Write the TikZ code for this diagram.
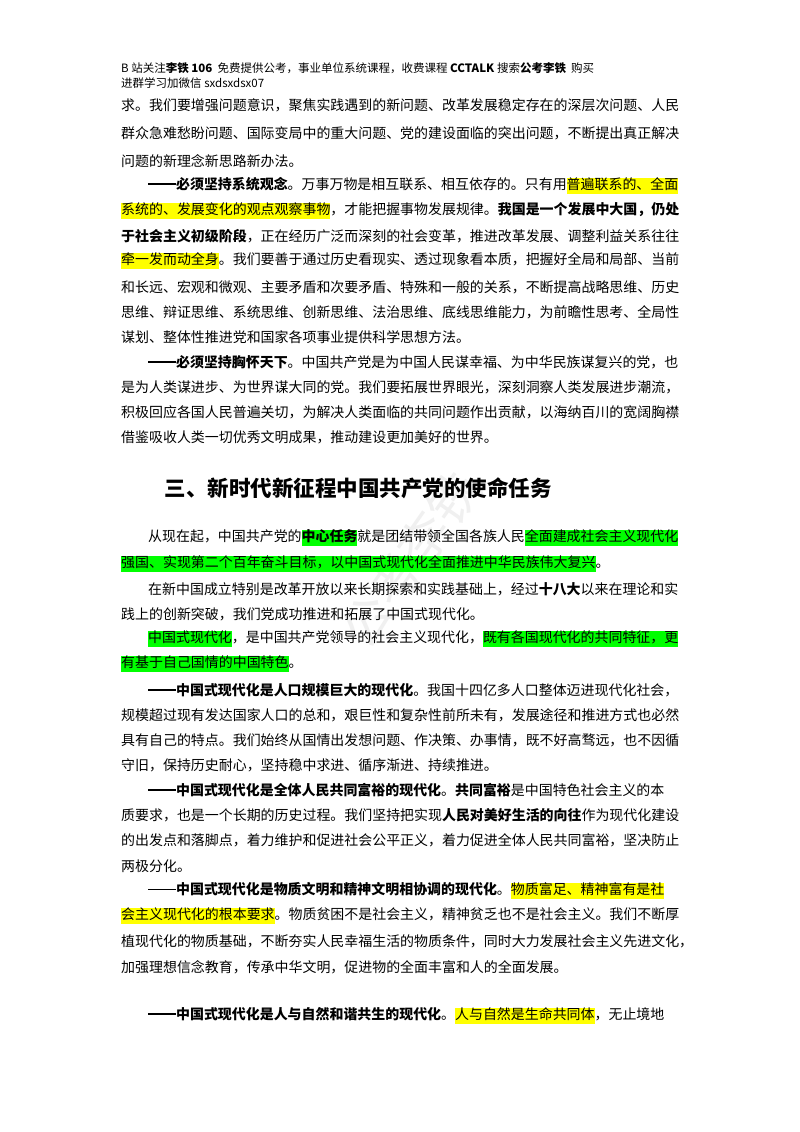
\documentclass[tikz,border=0pt]{standalone}
\usepackage{fontspec}
\usepackage{xcolor}
\setmainfont{Noto Sans CJK SC}
\newfontfamily\hdfont{Noto Sans CJK SC}
\definecolor{hly}{HTML}{FFFF00}
\definecolor{hlg}{HTML}{00FF00}
\newcommand{\hy}[1]{{\setlength\fboxsep{0pt}\colorbox{hly}{\strut #1}}}
\newcommand{\hg}[1]{{\setlength\fboxsep{0pt}\colorbox{hlg}{\strut #1}}}
\newcommand{\dd}{\rule[0.33em]{2em}{0.08em}}
\newcommand{\ddb}{\rule[0.33em]{2em}{0.12em}}
\tikzset{
  ln/.style={anchor=west,inner sep=0pt,font=\fontsize{13.95pt}{16pt}\selectfont},
  hd/.style={anchor=west,inner sep=0pt,font=\hdfont\fontsize{11.5pt}{12pt}\selectfont},
  ttl/.style={anchor=center,inner sep=0pt,font=\hdfont\bfseries\fontsize{21.5pt}{24pt}\selectfont}
}
\begin{document}
\begin{tikzpicture}[x=1pt,y=-1pt]
\useasboundingbox[fill=white] (0,0) rectangle (800,1132);
\node[font=\hdfont\fontsize{50pt}{50pt}\selectfont,text=black!6,rotate=55] (wm) at (410,560) {公考李铁};
\node[hd] (h1) at (121,68) {B 站关注\textbf{李铁 106} \ 免费提供公考，事业单位系统课程，收费课程 \textbf{CCTALK} 搜索\textbf{公考李铁} \ 购买};
\node[hd] (h2) at (121,83) {进群学习加微信 sxdsxdsx07};
\node[ln] (a1) at (121,105) {求。我们要增强问题意识，聚焦实践遇到的新问题、改革发展稳定存在的深层次问题、人民};
\node[ln] (a2) at (121,133) {群众急难愁盼问题、国际变局中的重大问题、党的建设面临的突出问题，不断提出真正解决};
\node[ln] (a3) at (121,161) {问题的新理念新思路新办法。};
\node[ln] (b1) at (148,186) {\ddb\textbf{必须坚持系统观念}。万事万物是相互联系、相互依存的。只有用\hy{普遍联系的、全面}};
\node[ln] (b2) at (121,211) {\hy{系统的、发展变化的观点观察事物}，才能把握事物发展规律。\textbf{我国是一个发展中大国，仍处}};
\node[ln] (b3) at (121,236) {\textbf{于社会主义初级阶段}，正在经历广泛而深刻的社会变革，推进改革发展、调整利益关系往往};
\node[ln] (b4) at (121,261) {\hy{牵一发而动全身}。我们要善于通过历史看现实、透过现象看本质，把握好全局和局部、当前};
\node[ln] (b5) at (121,287) {和长远、宏观和微观、主要矛盾和次要矛盾、特殊和一般的关系，不断提高战略思维、历史};
\node[ln] (b6) at (121,312) {思维、辩证思维、系统思维、创新思维、法治思维、底线思维能力，为前瞻性思考、全局性};
\node[ln] (b7) at (121,337) {谋划、整体性推进党和国家各项事业提供科学思想方法。};
\node[ln] (c1) at (148,362) {\ddb\textbf{必须坚持胸怀天下}。中国共产党是为中国人民谋幸福、为中华民族谋复兴的党，也};
\node[ln] (c2) at (121,387) {是为人类谋进步、为世界谋大同的党。我们要拓展世界眼光，深刻洞察人类发展进步潮流，};
\node[ln] (c3) at (121,412) {积极回应各国人民普遍关切，为解决人类面临的共同问题作出贡献，以海纳百川的宽阔胸襟};
\node[ln] (c4) at (121,437) {借鉴吸收人类一切优秀文明成果，推动建设更加美好的世界。};
\node[ttl] (t) at (358,488) {三、新时代新征程中国共产党的使命任务};
\node[ln] (d1) at (148,538) {从现在起，中国共产党的\hg{\textbf{中心任务}}就是团结带领全国各族人民\hg{全面建成社会主义现代化}};
\node[ln] (d2) at (121,564) {\hg{强国、实现第二个百年奋斗目标，以中国式现代化全面推进中华民族伟大复兴}。};
\node[ln] (e1) at (148,589) {在新中国成立特别是改革开放以来长期探索和实践基础上，经过\textbf{十八大}以来在理论和实};
\node[ln] (e2) at (121,614) {践上的创新突破，我们党成功推进和拓展了中国式现代化。};
\node[ln] (f1) at (148,639) {\hg{中国式现代化}，是中国共产党领导的社会主义现代化，\hg{既有各国现代化的共同特征，更}};
\node[ln] (f2) at (121,664) {\hg{有基于自己国情的中国特色}。};
\node[ln] (g1) at (148,690) {\ddb\textbf{中国式现代化是人口规模巨大的现代化}。我国十四亿多人口整体迈进现代化社会，};
\node[ln] (g2) at (121,715) {规模超过现有发达国家人口的总和，艰巨性和复杂性前所未有，发展途径和推进方式也必然};
\node[ln] (g3) at (121,740) {具有自己的特点。我们始终从国情出发想问题、作决策、办事情，既不好高骛远，也不因循};
\node[ln] (g4) at (121,765) {守旧，保持历史耐心，坚持稳中求进、循序渐进、持续推进。};
\node[ln] (h1b) at (148,790) {\ddb\textbf{中国式现代化是全体人民共同富裕的现代化}。\textbf{共同富裕}是中国特色社会主义的本};
\node[ln] (h2b) at (121,815) {质要求，也是一个长期的历史过程。我们坚持把实现\textbf{人民对美好生活的向往}作为现代化建设};
\node[ln] (h3b) at (121,840) {的出发点和落脚点，着力维护和促进社会公平正义，着力促进全体人民共同富裕，坚决防止};
\node[ln] (h4b) at (121,866) {两极分化。};
\node[ln] (i1) at (148,891) {\dd\textbf{中国式现代化是物质文明和精神文明相协调的现代化}。\hy{物质富足、精神富有是社}};
\node[ln] (i2) at (121,916) {\hy{会主义现代化的根本要求}。物质贫困不是社会主义，精神贫乏也不是社会主义。我们不断厚};
\node[ln] (i3) at (121,941) {植现代化的物质基础，不断夯实人民幸福生活的物质条件，同时大力发展社会主义先进文化，};
\node[ln] (i4) at (121,967) {加强理想信念教育，传承中华文明，促进物的全面丰富和人的全面发展。};
\node[ln] (j1) at (148,1016) {\ddb\textbf{中国式现代化是人与自然和谐共生的现代化}。\hy{人与自然是生命共同体}，无止境地};
\end{tikzpicture}
\end{document}
